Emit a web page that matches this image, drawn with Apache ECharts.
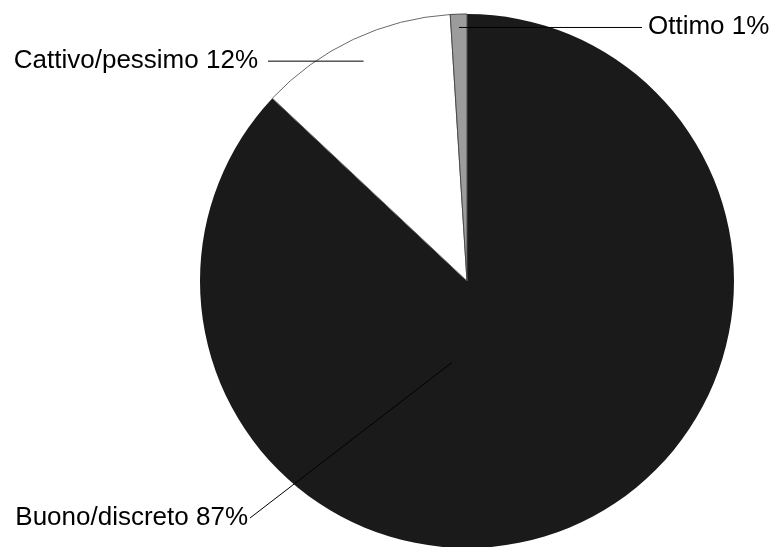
<!DOCTYPE html>
<html>
<head>
<meta charset="utf-8">
<script src="https://cdn.jsdelivr.net/npm/echarts@6/dist/echarts.min.js"></script>
<style>
  html, body { margin: 0; padding: 0; background: #ffffff; }
  #chart { width: 777px; height: 547px; }
</style>
</head>
<body>
<div id="chart"></div>
<script>
// Survey answers, clockwise from 12 o'clock
const categories = ['Buono/discreto', 'Cattivo/pessimo', 'Ottimo'];
const shares = [87, 12, 1];

// Slice fills and outlines
const sliceColors = ['#1a1a1a', '#ffffff', '#9c9c9c'];
const sliceBorders = ['#1a1a1a', '#6a6a6a', '#4a4a4a'];

// Pie geometry (pixels)
const CX = 467, CY = 281, R = 267;

// Label placement: text anchor point, alignment, and where the leader line
// starts inside the slice (angle clockwise from 12 o'clock, fraction of radius)
const labelSpots = [
  { x: 248, y: 518, align: 'right', lineEnd: [250, 518], anchor: { angle: 190.4, frac: 0.31 } },
  { x: 258, y: 61,  align: 'right', lineEnd: [268, null], anchor: { angle: 334.8, frac: 0.91 } },
  { x: 648, y: 27,  align: 'left',  lineEnd: [642, null], anchor: { angle: 358.2, frac: 0.95 } }
];

function polar(angleDeg, frac) {
  const a = angleDeg * Math.PI / 180;
  return [CX + R * frac * Math.sin(a), CY - R * frac * Math.cos(a)];
}

// Leader lines are drawn above the slices so they stay visible across them
const leaderLines = labelSpots.map(spot => {
  const start = polar(spot.anchor.angle, spot.anchor.frac);
  const end = [spot.lineEnd[0], spot.lineEnd[1] === null ? start[1] : spot.lineEnd[1]];
  return {
    type: 'line',
    silent: true,
    z: 100,
    shape: { x1: start[0], y1: start[1], x2: end[0], y2: end[1] },
    style: { stroke: '#000000', lineWidth: 1 }
  };
});

const chart = echarts.init(document.getElementById('chart'), null, { renderer: 'canvas' });

chart.setOption({
  animation: false,
  backgroundColor: '#ffffff',
  graphic: leaderLines,
  series: [{
    type: 'pie',
    silent: true,
    center: [CX, CY],
    radius: R,
    startAngle: 90,
    clockwise: true,
    avoidLabelOverlap: false,
    data: categories.map((name, i) => ({
      name: name,
      value: shares[i],
      itemStyle: {
        color: sliceColors[i],
        borderColor: sliceBorders[i],
        borderWidth: i === 0 ? 0 : 1
      }
    })),
    label: {
      show: true,
      position: 'outside',
      formatter: '{b} {d}%',
      color: '#000000',
      fontFamily: '"Liberation Sans", Arial, Helvetica, sans-serif',
      fontSize: 26
    },
    labelLine: { show: false },
    labelLayout: function (params) {
      const spot = labelSpots[params.dataIndex];
      return {
        x: spot.x,
        y: spot.y,
        align: spot.align,
        verticalAlign: 'middle'
      };
    }
  }]
});
</script>
</body>
</html>
